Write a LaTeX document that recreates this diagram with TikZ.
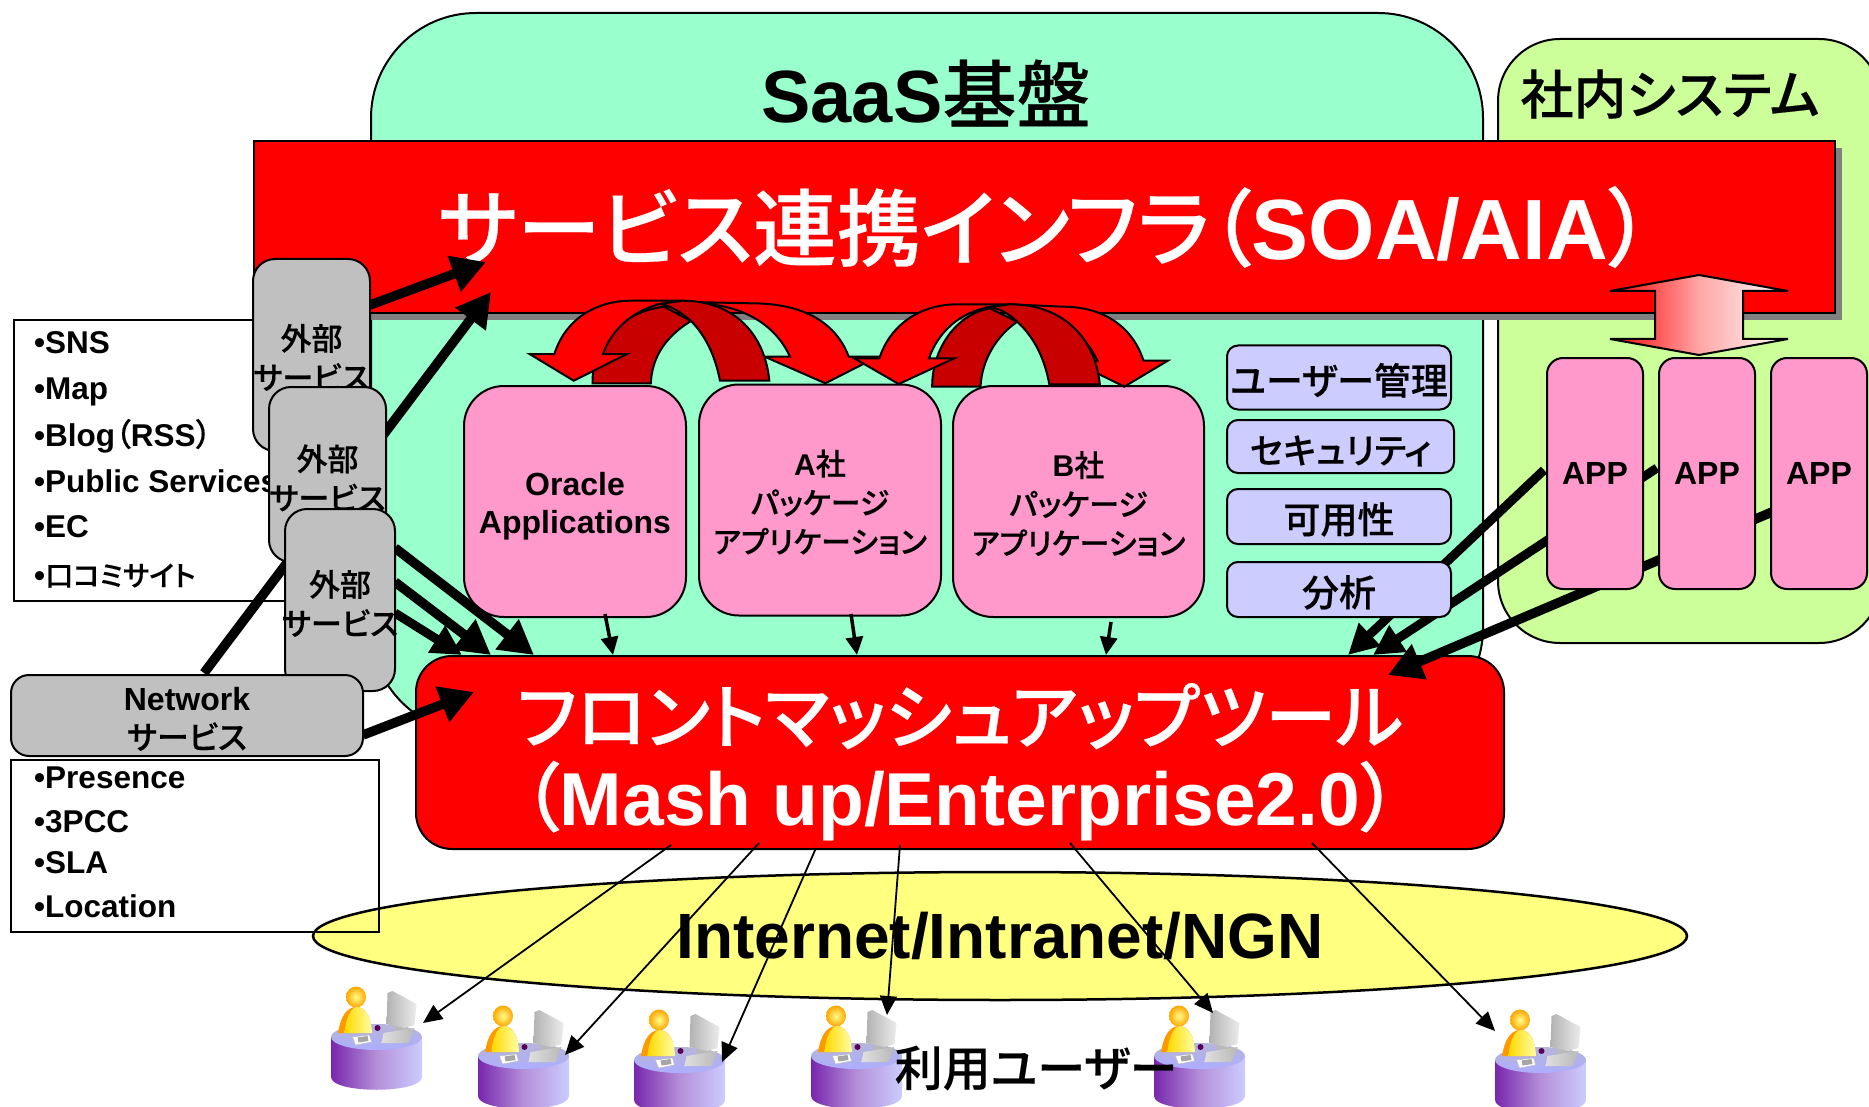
\documentclass[tikz,border=0pt]{standalone}
\usepackage{fontspec}
\setmainfont{Liberation Sans}
\newfontfamily\jp[RawFeature=+palt,BoldFont={Noto Sans CJK JP Medium},BoldFeatures={FakeBold=0.35}]{Noto Sans CJK JP}
\newcommand\J[1]{{\jp #1}}
\newcommand\up[1]{\rule{0pt}{#1pt}}
\newcommand\ov[1]{\makebox[0pt][c]{#1}}
\usetikzlibrary{arrows.meta,shapes.geometric}
\definecolor{saasc}{HTML}{99FFCC}
\definecolor{innerc}{HTML}{CCFF99}
\definecolor{pinkc}{HTML}{FF99CC}
\definecolor{lavc}{HTML}{CCCCFF}
\definecolor{grayc}{HTML}{C0C0C0}
\definecolor{yelc}{HTML}{FFFF80}
\definecolor{darkred}{HTML}{C80000}
\tikzset{
 ft/.style 2 args={font=\bfseries\fontsize{#1}{#2}\selectfont},
 box/.style={draw=black,line width=2pt,inner sep=0pt,align=center,rectangle},
 pinkbox/.style={box,fill=pinkc,rounded corners=40pt,ft={32}{38}},
 lavbox/.style={box,fill=lavc,rounded corners=11pt,ft={37}{40}},
 graybox/.style={box,fill=grayc,rounded corners=22pt,ft={31}{39}},
 appbox/.style={box,fill=pinkc,rounded corners=16pt,ft={32}{36}},
 item/.style={anchor=base west,inner sep=0pt,ft={31.5}{36}},
 thickarrow/.style={line width=9.5pt,-{Triangle[length=34pt,width=36pt]}},
 midarrow/.style={line width=9pt,-{Triangle[length=30pt,width=30pt]}},
 smallarrow/.style={line width=3.5pt,-{Triangle[length=18pt,width=17pt]}},
 thinarrow/.style={line width=1.8pt,-{Triangle[length=19pt,width=17pt]}},
 curvebright/.style={draw=black,line width=2pt,fill=red,line join=miter},
 curvedark/.style={draw=black,line width=2pt,fill=darkred,line join=miter},
 userdesk/.pic={
  \path[left color=violet!75!blue!85!white,right color=lavc,middle color=lavc!70!violet] (-45.5,0) -- (-45.5,40) .. controls (-45.5,57) and (45.5,57) .. (45.5,40) -- (45.5,0) -- cycle;
  \path[top color=lavc!70!gray,bottom color=lavc!85!blue] (0,0) ellipse [x radius=45.5,y radius=13];
  \fill[violet!70!black] (1,-9) circle (3);
  \path[inner color=yellow!45!white,outer color=orange!70!yellow] (-20.5,-40) ellipse [x radius=10,y radius=10.5];
  \fill[orange!80!yellow] (-38.5,-4) .. controls (-36,-20) and (-30,-30) .. (-20,-30) .. controls (-10,-30) and (-5,-18) .. (-4.5,-4) -- cycle;
  \path[left color=yellow!70!orange,right color=yellow!35!white] (-32,-4) .. controls (-31,-18) and (-26,-29) .. (-20,-30) .. controls (-10,-30) and (-5,-18) .. (-4.5,-4) -- cycle;
  \fill[gray!55] (17,-14) rectangle (31,-4);
  \path[left color=gray!60,right color=gray!15] (11,-44) -- (16,-46) -- (40,-33) -- (38,-12) -- (28,-9) -- (10,-13) -- cycle;
  \path[left color=gray!25,right color=gray!55] (7,-4) -- (38,-9) -- (32,6) -- (5,6) -- cycle;
  \fill[white,draw=gray!50,line width=.5pt] (-24,0) -- (-7,-2) -- (-5,5) -- (-21,8) -- cycle;
  \fill[gray!70] (-19,0.5) -- (-9,-1) -- (-8,4) -- (-18,5.5) -- cycle;
 }
}
\begin{document}
\begin{tikzpicture}[x=1pt,y=-1pt]
\useasboundingbox (0,0) rectangle (1869,1107);
\clip (0,0) rectangle (1869,1107);
% backgrounds
\node[box,fill=saasc,rounded corners=105pt,minimum width=1112pt,minimum height=720pt] (saas) at (927,373) {};
\node[box,fill=innerc,rounded corners=62pt,minimum width=383pt,minimum height=604pt] (inner) at (1689.5,341) {};
\node[ft={74}{80},inner sep=0pt] (saastitle) at (926,93) {SaaS\J{基盤}};
\node[ft={53}{56},inner sep=0pt] (innertitle) at (1670,94) {\J{社内システム}};
% network cloud
\node[ellipse,draw=black,line width=2.5pt,fill=yelc,inner sep=0pt,minimum width=1374pt,minimum height=128pt,ft={64}{70}] (net) at (1000,936) {Internet/Intranet/NGN};
% service band
\node[rectangle,fill=gray,minimum width=1581pt,minimum height=172pt,inner sep=0pt] (bandshadow) at (1051.5,234) {};
\node[box,fill=red,text=white,minimum width=1581pt,minimum height=172pt,ft={85.5}{90}] (band) at (1044.5,227) {{\fontsize{84}{90}\selectfont\jp サービス連携インフラ（}SOA/AIA\J{）}};
% list 1
\node[box,fill=white,minimum width=286pt,minimum height=281pt] (list1) at (157,460.5) {};
\node[item] (l1a) at (34,353) {•SNS};
\node[item] (l1b) at (34,399) {•Map};
\node[item] (l1c) at (34,446) {•Blog\J{（}RSS\J{）}};
\node[item] (l1d) at (34,492) {•Public Services};
\node[item] (l1e) at (34,537) {•EC};
\node[item] (l1f) at (34,586) {•{\fontsize{28}{36}\selectfont\jp 口コミサイト}};
% application boxes
\node[pinkbox,minimum width=222pt,minimum height=231pt] (oracle) at (575,501.5) {\up{33}Oracle\\Applications};
\node[pinkbox,minimum width=242pt,minimum height=231pt,ft={30}{39}] (pkga) at (820,500) {\up{30}A\J{社}\\\J{パッケージ}\\\J{アプリケーション}};
\node[pinkbox,minimum width=251pt,minimum height=231pt,ft={30}{39}] (pkgb) at (1078.5,501.5) {\up{30}B\J{社}\\\J{パッケージ}\\\J{アプリケーション}};
% mashup
\node[box,fill=red,text=white,rounded corners=36pt,minimum width=1088pt,minimum height=193pt,ft={75}{82}] (mash) at (960,752.5) {\up{79}{\fontsize{71.6}{82}\selectfont\jp フロントマッシュアップツール}\\\J{（}Mash up/Enterprise2.0\J{）}};
% connector ends
\coordinate (g1out) at (370,305);
\coordinate (bandin1) at (486,262);
\coordinate (netout1) at (204,673);
\coordinate (bandin2) at (491,292);
\coordinate (netout2) at (363,735);
\coordinate (mashin0) at (474,692);
\coordinate (g3a) at (395,548);
\coordinate (g3b) at (395,582);
\coordinate (g3c) at (395,613);
\coordinate (mashin1) at (534,655);
\coordinate (mashin2) at (491,655);
\coordinate (mashin3) at (462,655);
\coordinate (app1out) at (1544,470);
\coordinate (app2out) at (1657,468);
\coordinate (app3out) at (1772,512);
\coordinate (mashin4) at (1348,655);
\coordinate (mashin5) at (1373,655);
\coordinate (mashin6) at (1388,675);
% thick connectors (behind the boxes)
\draw[thickarrow] (g1out) -- (bandin1);
\draw[thickarrow] (netout1) -- (bandin2);
\draw[thickarrow] (netout2) -- (mashin0);
\draw[thickarrow] (g3a) -- (mashin1);
\draw[thickarrow] (g3b) -- (mashin2);
\draw[midarrow] (g3c) -- (mashin3);
\draw[midarrow] (app1out) -- (mashin4);
\draw[midarrow] (app2out) -- (mashin5);
\draw[thickarrow] (app3out) -- (mashin6);
% external service boxes
\node[graybox,minimum width=117pt,minimum height=192pt] (g1) at (311.5,355) {\up{31}\J{外部}\\\ov{\J{サービス}}};
\node[graybox,minimum width=117pt,minimum height=175pt] (g2) at (327.5,474.5) {\up{33}\J{外部}\\\ov{\J{サービス}}};
\node[graybox,minimum width=110pt,minimum height=182pt] (g3) at (340,600) {\up{33}\J{外部}\\\ov{\J{サービス}}};
\node[graybox,rounded corners=18pt,minimum width=352pt,minimum height=81pt,ft={32}{39}] (netsvc) at (187,715.5) {\up{30}Network\\\J{サービス}};
% list 2
\node[box,minimum width=368pt,minimum height=172pt] (list2) at (195,846) {};
\node[item] (l2a) at (34,788) {•Presence};
\node[item] (l2b) at (34,832) {•3PCC};
\node[item] (l2c) at (34,873) {•SLA};
\node[item] (l2d) at (34,917) {•Location};
% side boxes
\node[lavbox,minimum width=224pt,minimum height=64pt] (um) at (1339,377.5) {\up{37}\J{ユーザー管理}};
\node[lavbox,minimum width=227pt,minimum height=53pt,ft={35}{40}] (sec) at (1340.5,446.5) {\up{37}\J{セキュリティ}};
\node[lavbox,minimum width=224pt,minimum height=55pt] (av) at (1339,516.5) {\up{37}\J{可用性}};
\node[lavbox,minimum width=224pt,minimum height=55pt] (an) at (1339,589.5) {\up{37}\J{分析}};
% apps
\node[appbox,minimum width=96pt,minimum height=231pt] (app1) at (1595,473.5) {APP};
\node[appbox,minimum width=96pt,minimum height=231pt] (app2) at (1707,473.5) {APP};
\node[appbox,minimum width=96pt,minimum height=231pt] (app3) at (1819,473.5) {APP};
% double arrow
\path[draw=black,line width=2pt,left color=red,right color=white,middle color=red!35!white]
 (1699,275) -- (1788,291) -- (1743,291) -- (1743,339) -- (1788,339) -- (1699,355) -- (1610,339) -- (1655,339) -- (1655,291) -- (1610,291) -- cycle;
% curved arrows, first pair
\draw[curvebright] (764.7,356.7) -- (790,356.7) .. controls (778,330) and (750,306) .. (700,303.3) -- (664,306.7) -- (690,302) -- (751,303.3) .. controls (800,303.3) and (835,320) .. (848.7,356.7) -- (877.6,356.7) -- (825.3,383.3) -- cycle;
\draw[curvedark] (592.5,383.3) .. controls (592,345) and (620,312) .. (664,306.7) -- (691,321) .. controls (668,335) and (652,355) .. (650.8,383.3) -- cycle;
\draw[curvebright] (529.6,354) -- (554.4,354) .. controls (565,320) and (595,300.7) .. (631.5,300.7) -- (682,300.7) -- (660,304) .. controls (635,310) and (612,328) .. (603,354) -- (626.9,354) -- (573.7,380.7) -- cycle;
\draw[curvedark] (720,380.7) .. controls (715,355) and (705,335) .. (691,321) .. controls (680,312) and (672,306) .. (660,304) -- (682,300.7) .. controls (735,300.7) and (765,335) .. (769.3,380.7) -- cycle;
% curved arrows, second pair
\draw[curvebright] (1072,360.7) -- (1097.5,360.7) .. controls (1085,335) and (1060,312) .. (1020,308) -- (990,308.3) -- (1010,304.3) -- (1063,306.7) .. controls (1105,306.7) and (1133,328) .. (1143.5,360.7) -- (1167.8,360.7) -- (1124.2,386.7) -- cycle;
\draw[curvedark] (932.2,386.7) .. controls (932,350) and (955,315) .. (989.6,308.3) -- (1017.2,321.7) .. controls (998,335) and (982,358) .. (980.5,386.7) -- cycle;
\draw[curvebright] (854.2,358.3) -- (879.4,358.3) .. controls (890,325) and (920,304.3) .. (957.5,304.3) -- (1010.3,304.3) -- (990,307) .. controls (960,312) and (938,332) .. (929,358.3) -- (954.3,358.3) -- (898.7,384) -- cycle;
\draw[curvedark] (1049.3,384.3) .. controls (1045,360) and (1035,338) .. (1017.2,321.7) .. controls (1008,313) and (1000,309) .. (990,307) -- (1010.3,304.3) .. controls (1060,304.3) and (1095,335) .. (1099.8,384.3) -- cycle;
% small connectors
\coordinate (oout) at (605,614);
\coordinate (oin) at (613,655);
\coordinate (aout) at (851,614);
\coordinate (ain) at (857,655);
\coordinate (bout) at (1111,622);
\coordinate (bin) at (1106,655);
\draw[smallarrow] (oout) -- (oin);
\draw[smallarrow] (aout) -- (ain);
\draw[smallarrow] (bout) -- (bin);
% users
\pic (u1) at (376.5,1037) {userdesk};
\pic (u2) at (523.5,1056) {userdesk};
\pic (u3) at (679.5,1060) {userdesk};
\pic (u4) at (856.5,1056) {userdesk};
\pic (u5) at (1199.5,1056) {userdesk};
\pic (u6) at (1540.5,1060) {userdesk};
\node[ft={48}{52},inner sep=0pt] (users) at (1036,1068) {\J{利用ユーザー}};
% thin connectors
\coordinate (t1) at (671,845); \coordinate (e1) at (423,1023);
\coordinate (t2) at (759,843); \coordinate (e2) at (565,1055);
\coordinate (t3) at (816,848); \coordinate (e3) at (722,1062);
\coordinate (t4) at (900,845); \coordinate (e4) at (887,1015);
\coordinate (t5) at (1070,843); \coordinate (e5) at (1213,1013);
\coordinate (t6) at (1312,843); \coordinate (e6) at (1495,1031);
\draw[thinarrow] (t1) -- (e1);
\draw[thinarrow] (t2) -- (e2);
\draw[thinarrow] (t3) -- (e3);
\draw[thinarrow] (t4) -- (e4);
\draw[thinarrow] (t5) -- (e5);
\draw[thinarrow] (t6) -- (e6);
\end{tikzpicture}
\end{document}
